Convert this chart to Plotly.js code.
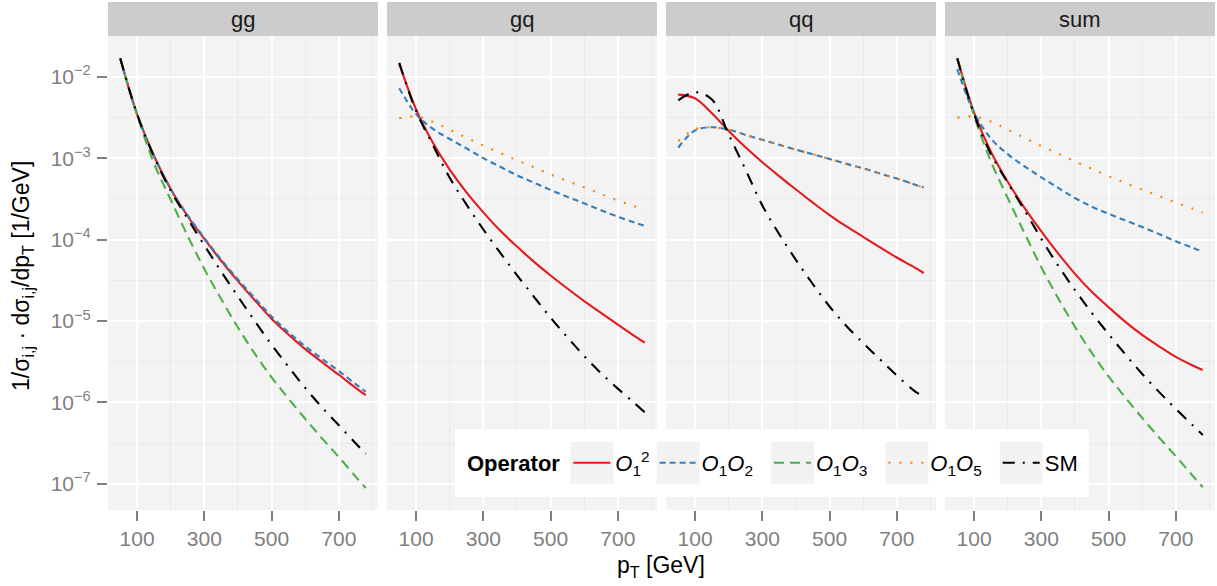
<!DOCTYPE html>
<html><head><meta charset="utf-8">
<script src="https://cdn.plot.ly/plotly-3.0.1.min.js"></script>
<style>html,body{margin:0;padding:0;background:#fff}#chart{width:1217px;height:586px}</style>
</head><body><div id="chart"></div>
<script>
// ---------------- data ----------------
const pT = [50, 100, 150, 200, 250, 300, 350, 400, 450, 500, 550, 600, 650, 700, 750, 780];
const panelNames = ['gg', 'gq', 'qq', 'sum'];
const seriesKeys = ['O1sq', 'O1O2', 'O1O3', 'O1O5', 'SM'];
const seriesLabels = ['<i>O</i><sub>1</sub><sup>2</sup>', '<i>O</i><sub>1</sub><i>O</i><sub>2</sub>\u2002',
                      '<i>O</i><sub>1</sub><i>O</i><sub>3</sub>\u2002', '<i>O</i><sub>1</sub><i>O</i><sub>5</sub>\u2002', 'SM'];
const xTickVals = [100, 300, 500, 700];
const xTickText = ['100', '300', '500', '700'];
const yTickVals = [1e-7, 1e-6, 1e-5, 1e-4, 1e-3, 1e-2];
const yTickText = ['10<sup>\u22127</sup>', '10<sup>\u22126</sup>', '10<sup>\u22125</sup>', '10<sup>\u22124</sup>', '10<sup>\u22123</sup>', '10<sup>\u22122</sup>'];

const gg_O1sq = [1.68e-2, 3.47e-3, 1.07e-3, 4.17e-4, 1.95e-4, 1.02e-4, 5.50e-5, 3.09e-5, 1.80e-5, 1.07e-5, 6.84e-6, 4.52e-6, 3.13e-6, 2.19e-6, 1.51e-6, 1.23e-6];
const gg_O1O2 = [1.68e-2, 3.47e-3, 1.07e-3, 4.17e-4, 2.00e-4, 1.05e-4, 5.69e-5, 3.24e-5, 1.91e-5, 1.14e-5, 7.33e-6, 4.90e-6, 3.43e-6, 2.43e-6, 1.68e-6, 1.36e-6];
const gg_O1O3 = [1.68e-2, 3.39e-3, 8.71e-4, 3.09e-4, 1.12e-4, 4.37e-5, 1.86e-5, 8.32e-6, 3.98e-6, 2.04e-6, 1.12e-6, 6.31e-7, 3.63e-7, 2.14e-7, 1.23e-7, 8.91e-8];
const gg_SM   = [1.68e-2, 3.47e-3, 1.05e-3, 3.98e-4, 1.82e-4, 8.51e-5, 4.07e-5, 2.00e-5, 1.00e-5, 5.13e-6, 2.75e-6, 1.51e-6, 8.71e-7, 5.25e-7, 3.16e-7, 2.34e-7];

const gq_O1sq = [1.45e-2, 3.98e-3, 1.55e-3, 7.24e-4, 3.80e-4, 2.16e-4, 1.29e-4, 8.22e-5, 5.37e-5, 3.63e-5, 2.51e-5, 1.76e-5, 1.26e-5, 9.02e-6, 6.53e-6, 5.43e-6];
const gq_O1O2 = [7.24e-3, 3.47e-3, 2.29e-3, 1.72e-3, 1.32e-3, 1.00e-3, 7.85e-4, 6.17e-4, 5.01e-4, 4.07e-4, 3.35e-4, 2.79e-4, 2.29e-4, 1.91e-4, 1.62e-4, 1.48e-4];
const gq_O1O5 = [3.09e-3, 3.24e-3, 2.79e-3, 2.24e-3, 1.78e-3, 1.43e-3, 1.16e-3, 9.44e-4, 7.76e-4, 6.31e-4, 5.25e-4, 4.37e-4, 3.63e-4, 3.02e-4, 2.57e-4, 2.32e-4];
const gq_SM   = [1.48e-2, 3.80e-3, 1.45e-3, 5.75e-4, 2.69e-4, 1.33e-4, 6.92e-5, 3.67e-5, 2.00e-5, 1.10e-5, 6.31e-6, 3.72e-6, 2.29e-6, 1.48e-6, 9.77e-7, 7.59e-7];

const qq_O1sq = [6.03e-3, 5.43e-3, 3.55e-3, 2.16e-3, 1.36e-3, 8.91e-4, 6.03e-4, 4.12e-4, 2.85e-4, 2.00e-4, 1.45e-4, 1.08e-4, 8.04e-5, 6.03e-5, 4.62e-5, 3.89e-5];
const qq_O1O2 = [1.35e-3, 2.19e-3, 2.40e-3, 2.24e-3, 1.93e-3, 1.68e-3, 1.46e-3, 1.27e-3, 1.12e-3, 9.77e-4, 8.51e-4, 7.50e-4, 6.46e-4, 5.62e-4, 4.79e-4, 4.37e-4];
const qq_O1O5 = [1.62e-3, 2.26e-3, 2.40e-3, 2.24e-3, 1.93e-3, 1.68e-3, 1.46e-3, 1.27e-3, 1.12e-3, 9.77e-4, 8.51e-4, 7.50e-4, 6.46e-4, 5.62e-4, 4.79e-4, 4.37e-4];
const qq_SM   = [5.13e-3, 6.46e-3, 5.25e-3, 1.95e-3, 7.24e-4, 2.63e-4, 1.17e-4, 5.62e-5, 2.85e-5, 1.51e-5, 8.71e-6, 5.37e-6, 3.39e-6, 2.14e-6, 1.41e-6, 1.17e-6];

const sum_O1sq = [1.68e-2, 3.63e-3, 1.20e-3, 5.13e-4, 2.45e-4, 1.26e-4, 6.76e-5, 3.80e-5, 2.29e-5, 1.48e-5, 9.77e-6, 6.76e-6, 4.90e-6, 3.63e-6, 2.85e-6, 2.51e-6];
const sum_O1O2 = [1.24e-2, 3.63e-3, 1.74e-3, 1.12e-3, 7.94e-4, 5.82e-4, 4.32e-4, 3.24e-4, 2.54e-4, 2.07e-4, 1.72e-4, 1.43e-4, 1.17e-4, 9.55e-5, 7.94e-5, 7.08e-5];
const sum_O1O3 = [1.68e-2, 3.31e-3, 9.12e-4, 3.24e-4, 1.20e-4, 4.57e-5, 1.91e-5, 8.51e-6, 4.07e-6, 2.09e-6, 1.15e-6, 6.46e-7, 3.72e-7, 2.19e-7, 1.26e-7, 9.12e-8];
const sum_O1O5 = [3.16e-3, 3.24e-3, 2.82e-3, 2.24e-3, 1.78e-3, 1.41e-3, 1.14e-3, 9.12e-4, 7.41e-4, 6.03e-4, 4.95e-4, 4.12e-4, 3.43e-4, 2.85e-4, 2.40e-4, 2.14e-4];
const sum_SM   = [1.68e-2, 3.47e-3, 1.12e-3, 5.01e-4, 2.29e-4, 1.02e-4, 4.79e-5, 2.40e-5, 1.26e-5, 6.92e-6, 3.89e-6, 2.24e-6, 1.35e-6, 8.32e-7, 5.25e-7, 3.98e-7];

const panelData = {
  gg:  {O1sq: gg_O1sq, O1O2: gg_O1O2, O1O3: gg_O1O3, SM: gg_SM},
  gq:  {O1sq: gq_O1sq, O1O2: gq_O1O2, O1O5: gq_O1O5, SM: gq_SM},
  qq:  {O1sq: qq_O1sq, O1O2: qq_O1O2, O1O5: qq_O1O5, SM: qq_SM},
  sum: {O1sq: sum_O1sq, O1O2: sum_O1O2, O1O3: sum_O1O3, O1O5: sum_O1O5, SM: sum_SM}
};

// ---------------- styling ----------------
const FONT = 'Liberation Sans, Arial, Helvetica, sans-serif';
const colors = {O1sq: '#E41A1C', O1O2: '#377EB8', O1O3: '#4DAF4A', O1O5: '#FF7F00', SM: '#000000'};
const dashes = {O1sq: 'solid', O1O2: '6px,4px', O1O3: '10px,6px', O1O5: '2px,9px', SM: '12px,8px,2px,8px'};
const W = 1217, H = 586;
const panelPx = [[108, 378], [387, 657], [666, 936], [945, 1215]];
const plotTop = 36, plotBottom = 510, stripTop = 2;
const fx = p => p / W;
const fy = p => (H - p) / H;

const traces = [];
const shown = {};
panelNames.forEach((pn, i) => {
  const sfx = i === 0 ? '' : String(i + 1);
  seriesKeys.forEach((k, si) => {
    const ys = panelData[pn][k];
    if (!ys) return;
    const first = !shown[k];
    shown[k] = true;
    traces.push({
      type: 'scatter', mode: 'lines', x: pT, y: ys,
      xaxis: 'x' + sfx, yaxis: 'y' + sfx,
      name: seriesLabels[si], legendgroup: k, showlegend: first, legendrank: si + 1,
      line: {color: colors[k], width: 2.1, dash: dashes[k], shape: 'spline', smoothing: 1},
      hoverinfo: 'skip'
    });
  });
});

const layout = {
  width: W, height: H,
  margin: {l: 0, r: 0, t: 0, b: 0},
  paper_bgcolor: '#FFFFFF', plot_bgcolor: '#F3F3F3',
  font: {family: FONT, size: 21, color: '#000000'},
  showlegend: true,
  legend: {
    orientation: 'h', x: 465 / W, xanchor: 'left', y: fy(463), yanchor: 'middle',
    bgcolor: 'rgba(0,0,0,0)', borderwidth: 0, itemwidth: 37,
    font: {family: FONT, size: 22, color: '#000000'},
    title: {text: '<b>Operator</b>', side: 'left', font: {family: FONT, size: 22, color: '#000000'}},
    traceorder: 'normal', itemclick: false, itemdoubleclick: false
  },
  shapes: [], annotations: []
};

panelNames.forEach((pn, i) => {
  const sfx = i === 0 ? '' : String(i + 1);
  const [l, r] = panelPx[i];
  layout['xaxis' + sfx] = {
    domain: [fx(l), fx(r)], anchor: 'y' + sfx, range: [13.5, 816.5],
    tickmode: 'array', tickvals: xTickVals, ticktext: xTickText,
    ticks: 'outside', ticklen: 10, tickwidth: 2, tickcolor: '#7F7F7F',
    tickfont: {family: FONT, size: 21, color: '#7F7F7F'},
    showgrid: true, gridcolor: '#FFFFFF', gridwidth: 2,
    minor: {tickmode: 'array', tickvals: [200, 400, 600, 800], showgrid: true, gridcolor: '#E9E9E9', gridwidth: 1, ticks: ''},
    zeroline: false, showline: false, fixedrange: true
  };
  layout['yaxis' + sfx] = {
    domain: [fy(plotBottom), fy(plotTop)], anchor: 'x' + sfx, type: 'log', range: [-7.32, -1.5],
    tickmode: 'array', tickvals: yTickVals, ticktext: yTickText,
    ticks: i === 0 ? 'outside' : '', ticklen: 10, tickwidth: 2, tickcolor: '#7F7F7F',
    showticklabels: i === 0, ticklabelstandoff: 2,
    tickfont: {family: FONT, size: 21, color: '#7F7F7F'},
    showgrid: true, gridcolor: '#FFFFFF', gridwidth: 2,
    minor: {tickmode: 'array', tickvals: [3.162e-7, 3.162e-6, 3.162e-5, 3.162e-4, 3.162e-3], showgrid: true, gridcolor: '#E9E9E9', gridwidth: 1, ticks: ''},
    zeroline: false, showline: false, fixedrange: true
  };
  // facet strip
  layout.shapes.push({type: 'rect', xref: 'paper', yref: 'paper', x0: fx(l), x1: fx(r), y0: fy(plotTop), y1: fy(stripTop),
    fillcolor: '#CCCCCC', line: {width: 0}, layer: 'below'});
  layout.annotations.push({xref: 'paper', yref: 'paper', x: fx((l + r) / 2), y: fy((plotTop + stripTop) / 2),
    xanchor: 'center', yanchor: 'middle', showarrow: false, text: pn, font: {family: FONT, size: 22, color: '#1A1A1A'}});
});

// axis titles
layout.annotations.push({xref: 'paper', yref: 'paper', x: fx(661), y: fy(566), xanchor: 'center', yanchor: 'middle',
  showarrow: false, text: 'p<sub>T</sub> [GeV]', font: {family: FONT, size: 23, color: '#000000'}});
layout.annotations.push({xref: 'paper', yref: 'paper', x: fx(22), y: fy(276), xanchor: 'center', yanchor: 'middle',
  showarrow: false, textangle: -90, text: '1/\u03c3<sub>i,j</sub> \u00b7 d\u03c3<sub>i,j</sub>/dp<sub>T</sub> [1/GeV]',
  font: {family: FONT, size: 23, color: '#000000'}});

Plotly.newPlot('chart', traces, layout, {displayModeBar: false, staticPlot: true}).then(gd => {
  // legend background box and grey key backgrounds, aligned with the drawn legend items
  const base = gd.getBoundingClientRect();
  let lines = Array.from(gd.querySelectorAll('.legend .traces .legendlines path.js-line'));
  if (!lines.length) lines = Array.from(gd.querySelectorAll('.legend .traces .legendlines path'));
  const texts = Array.from(gd.querySelectorAll('.legend .traces .legendtext'));
  const title = gd.querySelector('.legend .legendtitletext');
  const extra = [];
  let left = 468, right = 1075;
  if (title) left = title.getBoundingClientRect().left - base.left;
  texts.forEach(t => { right = Math.max(right, t.getBoundingClientRect().right - base.left); });
  extra.push({type: 'rect', xref: 'paper', yref: 'paper', x0: fx(left - 12), x1: fx(right + 11), y0: fy(497), y1: fy(429),
    fillcolor: '#FFFFFF', line: {width: 0}, layer: 'above'});
  lines.forEach(p => {
    const r = p.getBoundingClientRect();
    const x0 = r.left - base.left - 3;
    const cy = (r.top + r.bottom) / 2 - base.top;
    extra.push({type: 'rect', xref: 'paper', yref: 'paper', x0: fx(x0), x1: fx(x0 + 43), y0: fy(cy + 21), y1: fy(cy - 21),
      fillcolor: '#F2F2F2', line: {width: 0}, layer: 'above'});
  });
  return Plotly.relayout(gd, {shapes: layout.shapes.concat(extra)});
});
</script>
</body></html>
